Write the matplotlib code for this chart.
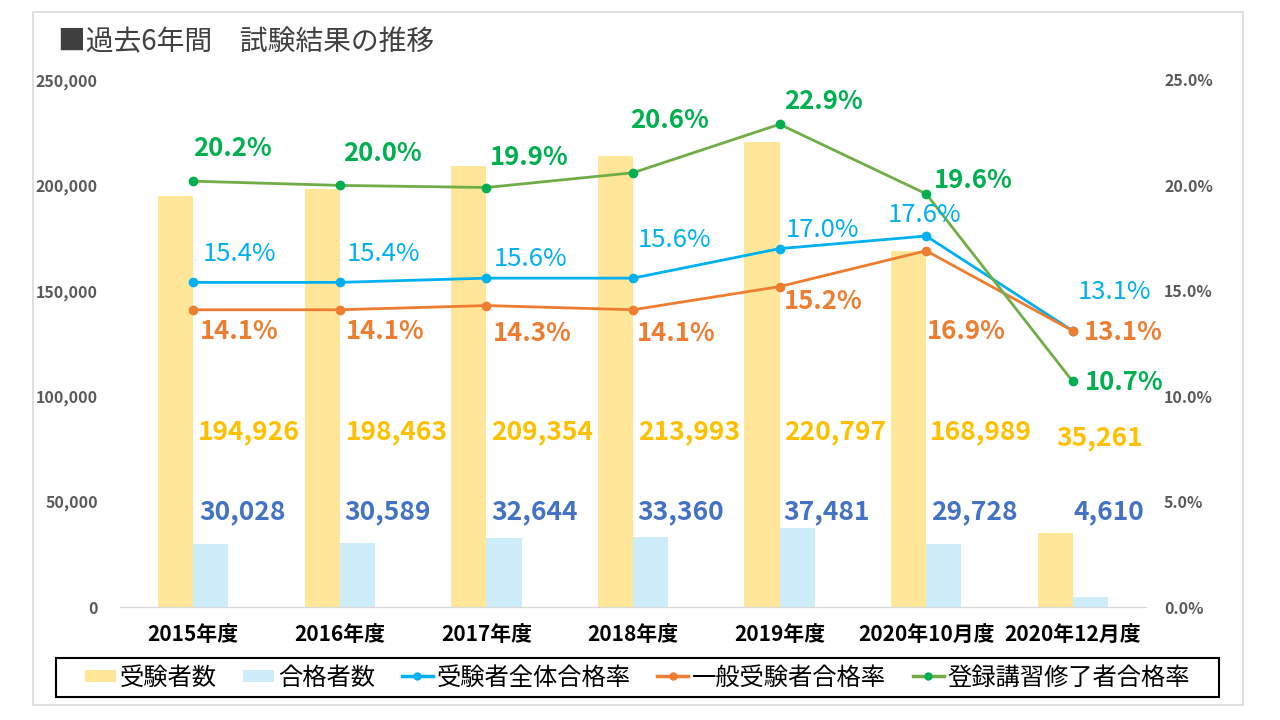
import matplotlib
matplotlib.use("Agg")
import matplotlib.pyplot as plt
import matplotlib.patches as mpatches
from matplotlib.lines import Line2D
import matplotlib.transforms as mtransforms
from matplotlib.ticker import FuncFormatter, MultipleLocator

plt.rcParams['font.family'] = ['Noto Sans CJK JP', 'DejaVu Sans']

categories = ['2015年度', '2016年度', '2017年度', '2018年度', '2019年度', '2020年10月度', '2020年12月度']
examinees = [194926, 198463, 209354, 213993, 220797, 168989, 35261]
passers = [30028, 30589, 32644, 33360, 37481, 29728, 4610]
rate_all = [15.4, 15.4, 15.6, 15.6, 17.0, 17.6, 13.1]
rate_general = [14.1, 14.1, 14.3, 14.1, 15.2, 16.9, 13.1]
rate_registered = [20.2, 20.0, 19.9, 20.6, 22.9, 19.6, 10.7]

C_YEL = '#FFE699'
C_LBLUE = '#CDEDFB'
C_BLUE = '#00B0F0'
C_ORANGE = '#ED7D31'
C_GREEN_LINE = '#70AD47'
C_GREEN = '#00B050'
C_YEL_TXT = '#FFC000'
C_DBLUE = '#4472C4'

fig = plt.figure(figsize=(12.8, 7.2), dpi=100)
fig.patches.append(mpatches.Rectangle((33/1280, 1-705/720), (1243-33)/1280, (705-12)/720,
                                      transform=fig.transFigure, fill=False,
                                      edgecolor='#D9D9D9', linewidth=1.2))
# legend frame
fig.patches.append(mpatches.Rectangle((56/1280, 1-697/720), (1219-56)/1280, (697-658)/720,
                                      transform=fig.transFigure, fill=False,
                                      edgecolor='black', linewidth=1.5, zorder=5))

ax = fig.add_axes([120/1280, 1-607/720, 1026/1280, 527/720])
ax2 = ax.twinx()

x = list(range(len(categories)))
w = 0.24
ax.bar([i - w/2 for i in x], examinees, width=w, color=C_YEL, zorder=2)
ax.bar([i + w/2 for i in x], passers, width=w, color=C_LBLUE, zorder=2)
ax.set_xlim(-0.5, len(categories) - 0.5)
ax.set_ylim(0, 250000)
ax.yaxis.set_major_locator(MultipleLocator(50000))
ax.yaxis.set_major_formatter(FuncFormatter(lambda v, p: f'{int(v):,}'))
ax2.set_ylim(0, 25)
ax2.yaxis.set_major_locator(MultipleLocator(5))
ax2.yaxis.set_major_formatter(FuncFormatter(lambda v, p: f'{v:.1f}%'))

for a in (ax, ax2):
    for s in ('top', 'left', 'right'):
        a.spines[s].set_visible(False)
    a.spines['bottom'].set_color('#D9D9D9')
    a.tick_params(axis='y', length=0, labelsize=11.5, labelcolor='#595959')
ax.tick_params(axis='y', pad=16)
ax2.tick_params(axis='y', pad=13)
ax.set_xticks(x)
ax.set_xticklabels(categories, fontsize=15, fontweight='bold', color='black')
ax.tick_params(axis='x', length=0, pad=12)
for lbl in ax.get_yticklabels() + ax2.get_yticklabels():
    lbl.set_fontweight('bold')

ax2.plot(x, rate_all, color=C_BLUE, lw=2, marker='o', ms=6, zorder=3)
ax2.plot(x, rate_general, color=C_ORANGE, lw=2, marker='o', ms=6, zorder=3)
ax2.plot(x, rate_registered, color=C_GREEN_LINE, lw=2, marker='o', ms=6,
         markerfacecolor=C_GREEN, markeredgecolor=C_GREEN, zorder=3)

off_green = [(39, 33), (43, 32), (43, 30), (37, 52), (44, 23), (47, 13), (52, -1)]
off_blue = [(46, 28), (44, 28), (44, 19), (42, 38), (43, 19), (-2, 21), (42, 39)]
off_orange = [(46, -22), (45, -22), (46, -28), (43, -24), (44, -15), (40, -81), (51, -2)]
for i in x:
    ax2.annotate(f'{rate_registered[i]:.1f}%', (i, rate_registered[i]), xytext=off_green[i],
                 textcoords='offset pixels', ha='center', va='center', fontsize=18.5,
                 fontweight='bold', color=C_GREEN)
    ax2.annotate(f'{rate_all[i]:.1f}%', (i, rate_all[i]), xytext=off_blue[i],
                 textcoords='offset pixels', ha='center', va='center', fontsize=18.5,
                 color=C_BLUE)
    ax2.annotate(f'{rate_general[i]:.1f}%', (i, rate_general[i]), xytext=off_orange[i],
                 textcoords='offset pixels', ha='center', va='center', fontsize=18.5,
                 fontweight='bold', color=C_ORANGE)

blend = mtransforms.blended_transform_factory(ax.transData, ax.transAxes)
off_yel = [56, 57, 56, 56, 56, 55, 27]
off_yel_y = [0, 0, 0, 0, 0, 0, -6]
off_lb = [49, 48, 48, 48, 47, 48, 36]
for i in x:
    ax.annotate(f'{examinees[i]:,}', (i, 0.332), xycoords=blend, xytext=(off_yel[i], off_yel_y[i]),
                textcoords='offset pixels', ha='center', va='center', fontsize=19,
                fontweight='bold', color=C_YEL_TXT)
    ax.annotate(f'{passers[i]:,}', (i, 0.180), xycoords=blend, xytext=(off_lb[i], 0),
                textcoords='offset pixels', ha='center', va='center', fontsize=19,
                fontweight='bold', color=C_DBLUE)

fig.text(58/1280, 1-42/720, '■過去6年間　試験結果の推移', fontsize=20, color='#404040',
         ha='left', va='center')

handles = [
    Line2D([], [], color=C_YEL, lw=8.6, solid_capstyle='butt', label='受験者数'),
    Line2D([], [], color=C_LBLUE, lw=8.6, solid_capstyle='butt', label='合格者数'),
    Line2D([], [], color=C_BLUE, lw=2.5, marker='o', ms=5, label='受験者全体合格率'),
    Line2D([], [], color=C_ORANGE, lw=2.5, marker='o', ms=5, label='一般受験者合格率'),
    Line2D([], [], color=C_GREEN_LINE, lw=2.5, marker='o', ms=5, markerfacecolor=C_GREEN,
           markeredgecolor=C_GREEN, label='登録講習修了者合格率'),
]
leg = fig.legend(handles=handles, loc='center', bbox_to_anchor=(637.5/1280, 1-677.5/720), ncol=5,
                 fontsize=17.5, frameon=False, handlelength=1.28, columnspacing=1.1,
                 handletextpad=0.15, borderpad=0.1)

fig.savefig('out.png', dpi=100)
